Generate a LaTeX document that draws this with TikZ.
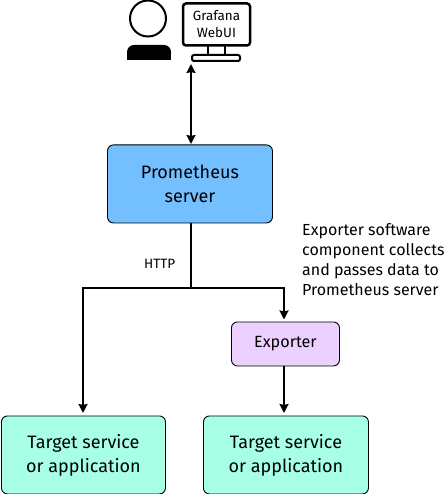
\documentclass[tikz,border=0pt]{standalone}
\usepackage{fontspec}
\setmainfont{Fira Sans}
\usetikzlibrary{arrows.meta}
\newcommand\lowered[1]{\raisebox{-1pt}{#1}}
\tikzset{
  box/.style={draw=black,line width=0.9pt,rounded corners=6pt,anchor=north west,align=center,inner sep=0pt,font=\fontsize{18}{24}\selectfont},
  conn/.style={draw=black,line width=2pt},
  arr/.style={conn,-{Stealth[length=9pt,width=9pt,inset=1pt]}},
  lab/.style={inner sep=0pt,align=left,anchor=west},
}
\begin{document}
\begin{tikzpicture}[x=1pt,y=-1pt]
\useasboundingbox (0,0) rectangle (447,494);
\node[box,fill={rgb,255:red,115;green,191;blue,255},minimum width=165pt,minimum height=78pt] (prom) at (107,144.5) {\lowered{Prometheus}\\\lowered{server}};
\node[box,fill={rgb,255:red,236;green,208;blue,255},minimum width=108pt,minimum height=44pt,font=\fontsize{16.2}{18}\selectfont] (exp) at (231,321.5) {\lowered{Exporter}};
\node[box,fill={rgb,255:red,167;green,255;blue,230},minimum width=164pt,minimum height=78pt] (t1) at (1,415.5) {\lowered{Target service}\\\lowered{or application}};
\node[box,fill={rgb,255:red,167;green,255;blue,230},minimum width=165pt,minimum height=78pt] (t2) at (203,415.5) {\lowered{Target service}\\\lowered{or application}};
% person
\draw[line width=2pt] (148,18.5) circle (18);
\fill[black,rounded corners=7pt] (127,60) -- (127,45) -- (171,45) -- (171,60) [sharp corners] -- cycle;
\fill[black] (127,54) rectangle (171,60);
% monitor
\node[draw=black,line width=2.5pt,rounded corners=3pt,minimum width=67pt,minimum height=42pt,inner sep=0pt,align=center,font=\fontsize{13.4}{17}\selectfont] (mon) at (216.5,24.5) {Grafana\\WebUI};
\draw[line width=2pt] (208,46) -- (208,55) (225,46) -- (225,55);
\draw[line width=2pt,rounded corners=2pt] (192,55) rectangle (240,61);
\coordinate (montip) at (191,64);
\coordinate (j) at (191,288);
\coordinate (jl) at (83,288);
\coordinate (jr) at (284,288);
% connectors
\draw[conn,{Stealth[length=9pt,width=9pt,inset=1pt]}-{Stealth[length=9pt,width=9pt,inset=1pt]}] (montip) -- (191,144);
\draw[conn] (191,222.5) -- (j);
\draw[arr] (j) -- (jl) -- (83,413);
\draw[arr] (j) -- (jr) -- (284,319.5);
\draw[arr] (284,365.5) -- (284,413);
% labels
\node[lab,font=\fontsize{13.5}{14}\selectfont] (http) at (144,264) {HTTP};
\node[lab,font=\fontsize{16}{20.2}\selectfont] (note) at (302,259.5) {Exporter software\\component collects\\and passes data to\\Prometheus server};
\end{tikzpicture}
\end{document}
